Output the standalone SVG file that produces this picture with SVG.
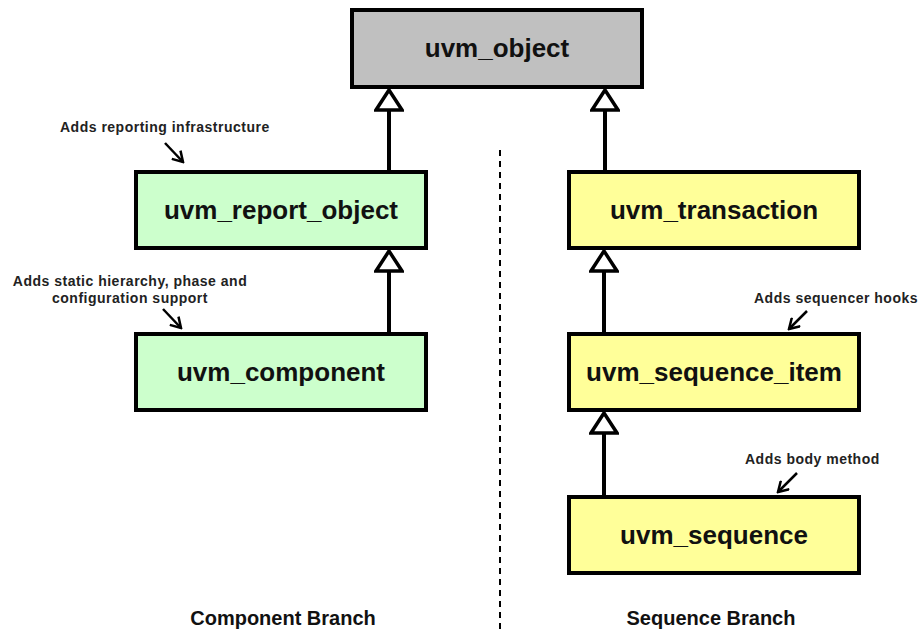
<svg xmlns="http://www.w3.org/2000/svg" width="923" height="630" viewBox="0 0 923 630">
  <defs>
    <style>
      .box { stroke: #000; stroke-width: 4; }
      .base { fill: #c0c0c0; }
      .comp { fill: #ccffcc; }
      .seq { fill: #ffff99; }
      .name { font-family: "Liberation Sans", Arial, sans-serif; font-weight: bold; font-size: 26px; fill: #111; text-anchor: middle; }
      .note { font-family: "Liberation Sans", Arial, sans-serif; font-weight: bold; font-size: 14px; fill: #222; letter-spacing: 0.5px; }
      .branch { font-family: "Liberation Sans", Arial, sans-serif; font-weight: bold; font-size: 20px; fill: #111; text-anchor: middle; }
      .inherit { stroke: #000; stroke-width: 4; fill: none; }
      .pointer { stroke: #000; stroke-width: 2.5; fill: none; }
    </style>
    <!-- hollow triangle for generalisation (tip along +x) -->
    <marker id="gen" markerUnits="userSpaceOnUse" viewBox="0 0 26 30" refX="23" refY="15" markerWidth="26" markerHeight="30" orient="auto">
      <polygon points="23,15 3,2 3,28" fill="#fff" stroke="#000" stroke-width="3.5" stroke-linejoin="miter"/>
    </marker>
    <!-- open V head for annotation pointers -->
    <marker id="vee" markerUnits="userSpaceOnUse" viewBox="0 0 14 14" refX="12" refY="7" markerWidth="14" markerHeight="14" orient="auto">
      <polyline points="2,1 12,7 2,13" fill="none" stroke="#000" stroke-width="2.5"/>
    </marker>
  </defs>
  <rect width="923" height="630" fill="#fff"/>

  <!-- inheritance connectors -->
  <g id="connectors">
    <path class="inherit" d="M389,172 V90" marker-end="url(#gen)"/>
    <path class="inherit" d="M605,172 V90" marker-end="url(#gen)"/>
    <path class="inherit" d="M389,334 V251" marker-end="url(#gen)"/>
    <path class="inherit" d="M604,334 V251" marker-end="url(#gen)"/>
    <path class="inherit" d="M604,497 V413" marker-end="url(#gen)"/>
    <!-- branch separator -->
    <line x1="500" y1="150" x2="500" y2="630" stroke="#000" stroke-width="2" stroke-dasharray="6,5"/>
    <!-- annotation pointers -->
    <line class="pointer" x1="165" y1="143" x2="183" y2="162" marker-end="url(#vee)"/>
    <line class="pointer" x1="163" y1="309" x2="181" y2="328" marker-end="url(#vee)"/>
    <line class="pointer" x1="807" y1="311" x2="789" y2="329" marker-end="url(#vee)"/>
    <line class="pointer" x1="797" y1="473" x2="778" y2="492" marker-end="url(#vee)"/>
  </g>

  <g id="uvm_object">
    <rect class="box base" x="352" y="10" width="290" height="77"/>
    <text class="name" x="497" y="57">uvm_object</text>
  </g>

  <g id="uvm_report_object">
    <rect class="box comp" x="136" y="172" width="290" height="76"/>
    <text class="name" x="281" y="219">uvm_report_object</text>
  </g>

  <g id="uvm_component">
    <rect class="box comp" x="136" y="334" width="290" height="76"/>
    <text class="name" x="281" y="381">uvm_component</text>
  </g>

  <g id="uvm_transaction">
    <rect class="box seq" x="569" y="172" width="290" height="76"/>
    <text class="name" x="714" y="219">uvm_transaction</text>
  </g>

  <g id="uvm_sequence_item">
    <rect class="box seq" x="569" y="334" width="290" height="76"/>
    <text class="name" x="714" y="381">uvm_sequence_item</text>
  </g>

  <g id="uvm_sequence">
    <rect class="box seq" x="569" y="497" width="290" height="76"/>
    <text class="name" x="714" y="544">uvm_sequence</text>
  </g>

  <g id="notes">
    <text class="note" x="60" y="132">Adds reporting infrastructure</text>
    <text class="note" x="130" y="286" text-anchor="middle">Adds static hierarchy, phase and</text>
    <text class="note" x="130" y="303" text-anchor="middle">configuration support</text>
    <text class="note" x="754" y="303">Adds sequencer hooks</text>
    <text class="note" x="745" y="464">Adds body method</text>
  </g>

  <g id="branches">
    <text class="branch" x="283" y="625">Component Branch</text>
    <text class="branch" x="711" y="625">Sequence Branch</text>
  </g>
</svg>
